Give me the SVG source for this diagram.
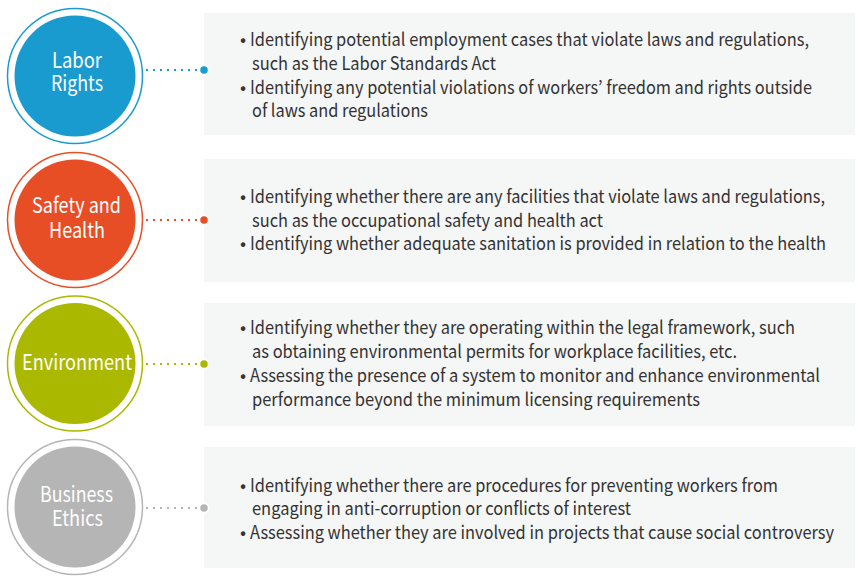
<svg xmlns="http://www.w3.org/2000/svg" width="858" height="577" viewBox="0 0 858 577">
<style>
.panel{fill:#f5f6f6}
.ring{fill:#fff;stroke-width:1.5}
.ct{font-family:"Noto Sans CJK KR","Source Sans Pro","Liberation Sans",sans-serif;font-size:21px;fill:#fff}
.t{font-family:"Noto Sans CJK KR","Source Sans Pro","Liberation Sans",sans-serif;font-size:18px;fill:#333}
.dots{fill:none;stroke-width:2;stroke-dasharray:2 5;stroke-linecap:butt}
.end{stroke:#fff;stroke-width:1.5}
</style>
<rect width="858" height="577" fill="#fff"/>
<g id="panels">
<rect class="panel" x="204" y="13" width="651" height="122"/>
<rect class="panel" x="204" y="159" width="651" height="123"/>
<rect class="panel" x="204" y="303" width="651" height="123"/>
<rect class="panel" x="204" y="447" width="651" height="121"/>
</g>
<g id="connectors">
<line class="dots" x1="146" y1="70" x2="200" y2="70" stroke="#1a9bd0"/>
<circle class="end" cx="204" cy="70" r="4.5" fill="#1a9bd0"/>
<line class="dots" x1="146" y1="220" x2="200" y2="220" stroke="#e84e25"/>
<circle class="end" cx="204" cy="220" r="4.5" fill="#e84e25"/>
<line class="dots" x1="146" y1="364" x2="200" y2="364" stroke="#abb800"/>
<circle class="end" cx="204" cy="364" r="4.5" fill="#abb800"/>
<line class="dots" x1="146" y1="508" x2="200" y2="508" stroke="#b5b5b5"/>
<circle class="end" cx="204" cy="508" r="4.5" fill="#b5b5b5"/>
</g>
<g id="labor-rights">
<circle class="ring" cx="75" cy="76" r="67.5" stroke="#1a9bd0"/>
<circle cx="75" cy="76" r="60.5" fill="#1a9bd0"/>
<text class="ct" x="52" y="68" textLength="50" lengthAdjust="spacingAndGlyphs">Labor</text>
<text class="ct" x="51" y="91" textLength="52" lengthAdjust="spacingAndGlyphs">Rights</text>
</g>
<g id="labor-rights-text">
<text class="t" x="240" y="46">•</text><text class="t" x="250" y="46" textLength="559" lengthAdjust="spacingAndGlyphs">Identifying potential employment cases that violate laws and regulations,</text>
<text class="t" x="252" y="70" textLength="244" lengthAdjust="spacingAndGlyphs">such as the Labor Standards Act</text>
<text class="t" x="240" y="94">•</text><text class="t" x="250" y="94" textLength="562" lengthAdjust="spacingAndGlyphs">Identifying any potential violations of workers’ freedom and rights outside</text>
<text class="t" x="252" y="117" textLength="176" lengthAdjust="spacingAndGlyphs">of laws and regulations</text>
</g>
<g id="safety-health">
<circle class="ring" cx="75" cy="220" r="67.5" stroke="#e84e25"/>
<circle cx="75" cy="220" r="60.5" fill="#e84e25"/>
<text class="ct" x="32" y="213" textLength="89" lengthAdjust="spacingAndGlyphs">Safety and</text>
<text class="ct" x="49" y="238" textLength="56" lengthAdjust="spacingAndGlyphs">Health</text>
</g>
<g id="safety-health-text">
<text class="t" x="240" y="203">•</text><text class="t" x="250" y="203" textLength="575" lengthAdjust="spacingAndGlyphs">Identifying whether there are any facilities that violate laws and regulations,</text>
<text class="t" x="252" y="227" textLength="351" lengthAdjust="spacingAndGlyphs">such as the occupational safety and health act</text>
<text class="t" x="240" y="250">•</text><text class="t" x="250" y="250" textLength="576" lengthAdjust="spacingAndGlyphs">Identifying whether adequate sanitation is provided in relation to the health</text>
</g>
<g id="environment">
<circle class="ring" cx="75" cy="363.5" r="67.5" stroke="#abb800"/>
<circle cx="75" cy="363.5" r="60.5" fill="#abb800"/>
<text class="ct" x="22" y="370" textLength="110" lengthAdjust="spacingAndGlyphs">Environment</text>
</g>
<g id="environment-text">
<text class="t" x="240" y="334">•</text><text class="t" x="250" y="334" textLength="545" lengthAdjust="spacingAndGlyphs">Identifying whether they are operating within the legal framework, such</text>
<text class="t" x="252" y="358" textLength="485" lengthAdjust="spacingAndGlyphs">as obtaining environmental permits for workplace facilities, etc.</text>
<text class="t" x="240" y="382">•</text><text class="t" x="250" y="382" textLength="570" lengthAdjust="spacingAndGlyphs">Assessing the presence of a system to monitor and enhance environmental</text>
<text class="t" x="252" y="406" textLength="448" lengthAdjust="spacingAndGlyphs">performance beyond the minimum licensing requirements</text>
</g>
<g id="business-ethics">
<circle class="ring" cx="75" cy="507" r="67.5" stroke="#b5b5b5"/>
<circle cx="75" cy="507" r="60.5" fill="#b5b5b5"/>
<text class="ct" x="40" y="502" textLength="73" lengthAdjust="spacingAndGlyphs">Business</text>
<text class="ct" x="52" y="526" textLength="51" lengthAdjust="spacingAndGlyphs">Ethics</text>
</g>
<g id="business-ethics-text">
<text class="t" x="240" y="492">•</text><text class="t" x="250" y="492" textLength="528" lengthAdjust="spacingAndGlyphs">Identifying whether there are procedures for preventing workers from</text>
<text class="t" x="252" y="515" textLength="379" lengthAdjust="spacingAndGlyphs">engaging in anti-corruption or conflicts of interest</text>
<text class="t" x="240" y="539">•</text><text class="t" x="250" y="539" textLength="584" lengthAdjust="spacingAndGlyphs">Assessing whether they are involved in projects that cause social controversy</text>
</g>
</svg>
